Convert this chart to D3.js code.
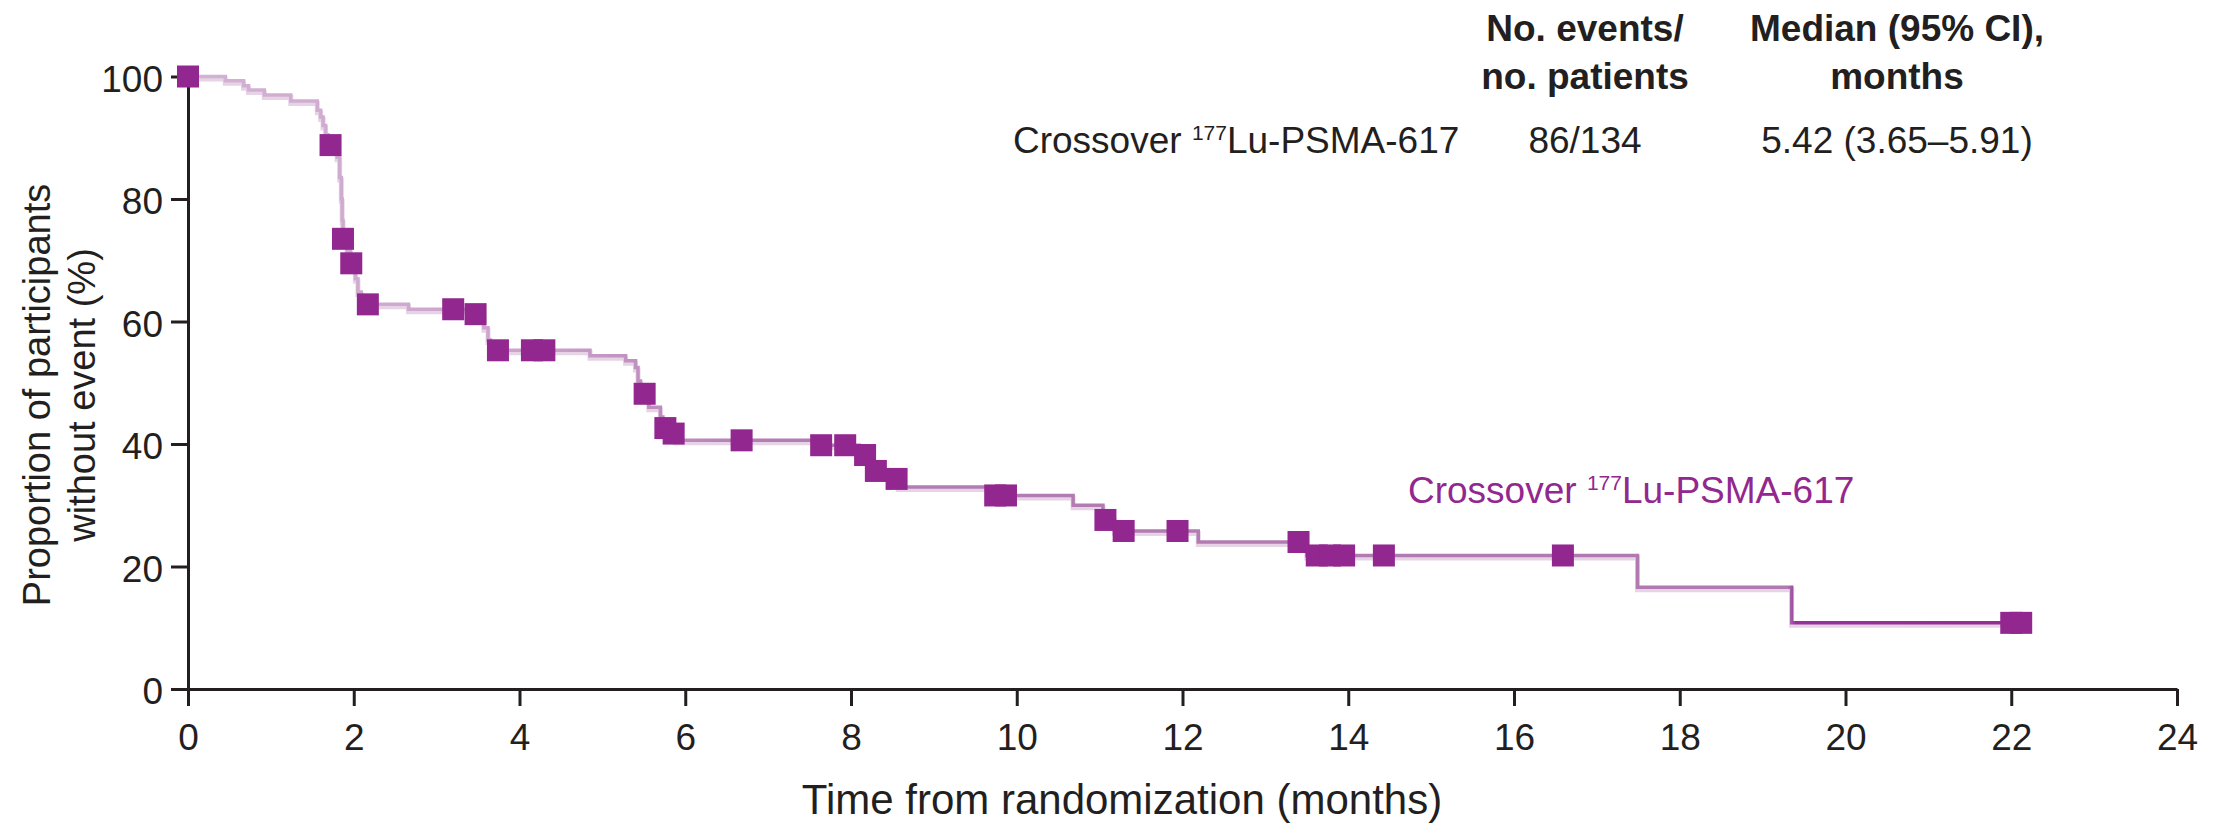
<!DOCTYPE html>
<html>
<head>
<meta charset="utf-8">
<script src="https://cdn.jsdelivr.net/npm/d3@7"></script>
<style>
  body { margin: 0; background: #fff; }
  text { font-family: "Liberation Sans", Arial, Helvetica, sans-serif; fill: #231f20; }
</style>
</head>
<body>
<div id="chart"></div>
<script>
// KM steps: time (months) and % without event after each drop
const stepTimes = [0, 0.45, 0.67, 0.73, 0.92, 1.24, 1.56, 1.60, 1.63, 1.66, 1.69, 1.80, 1.83, 1.85, 1.86, 1.87,
  1.92, 1.96, 2.02, 2.05, 2.09, 2.66, 3.40, 3.57, 3.62, 3.65, 4.85, 5.28, 5.40, 5.43, 5.46, 5.56, 5.70,
  5.73, 5.80, 5.88, 7.62, 8.10, 8.25, 8.50, 8.57, 9.70, 10.68, 11.04, 11.18, 12.19, 13.50, 17.49, 19.35];
const stepSurv = [100, 99.3, 98.5, 97.8, 97.0, 96.0, 94.5, 93.4, 92.0, 90.5, 88.8, 86.8, 83.5, 80.0, 76.5, 73.5,
  71.5, 69.5, 67.0, 64.8, 62.8, 62.0, 61.2, 59.0, 57.0, 55.3, 54.4, 53.6, 52.5, 50.3, 48.2, 46.0, 44.4,
  42.6, 41.7, 40.6, 39.8, 38.2, 35.6, 34.3, 33.0, 31.6, 30.0, 27.6, 25.8, 24.0, 21.8, 16.6, 10.8];
// censored observations (square marks)
const censorTimes = [0, 1.72, 1.87, 1.97, 2.17, 3.20, 3.47, 3.74, 4.15, 4.30, 5.51, 5.76, 5.86, 6.68, 7.64,
  7.93, 8.17, 8.30, 8.55, 9.74, 9.87, 11.07, 11.29, 11.94, 13.40, 13.62, 13.78, 13.95, 14.43, 16.59, 22.00, 22.12];

const xTicks = [0, 2, 4, 6, 8, 10, 12, 14, 16, 18, 20, 22, 24];
const yTicks = [0, 20, 40, 60, 80, 100];

const seriesName = "Crossover ";
const seriesIso = "177";
const seriesDrug = "Lu-PSMA-617";
const headEvents = ["No. events/", "no. patients"];
const headMedian = ["Median (95% CI),", "months"];
const rowEvents = "86/134";
const rowMedian = "5.42 (3.65\u20135.91)";

const W = 2213, H = 823;
const purple = "#92278f";
const ink = "#231f20";
const fs = 37;

const svg = d3.select("#chart").append("svg")
    .attr("width", W)
    .attr("height", H)
    .attr("viewBox", [0, 0, W, H]);

const x = d3.scaleLinear().domain([0, 24]).range([188, 2177]);
const y = d3.scaleLinear().domain([0, 100]).range([689, 76.5]);

// value of the step function at time t
const survAt = t => stepSurv[d3.bisectRight(stepTimes, t) - 1];

const pts = stepTimes.map((t, i) => [t, stepSurv[i]]);
pts.push([d3.max(censorTimes), survAt(d3.max(censorTimes))]);

const line = d3.line()
    .curve(d3.curveStepAfter)
    .x(d => x(d[0]))
    .y(d => y(d[1]));

// the line goes from pale at the start to full purple at the tail
const grad = svg.append("defs").append("linearGradient")
    .attr("id", "kmstroke")
    .attr("gradientUnits", "userSpaceOnUse")
    .attr("x1", x(0)).attr("x2", x(24)).attr("y1", 0).attr("y2", 0);
[[0, "#d3b2d3"], [4, "#cca3cc"], [7, "#b37db3"], [19.3, "#b07ab0"], [19.4, "#96339a"], [24, purple]]
  .forEach(([t, c]) => grad.append("stop").attr("offset", t / 24).attr("stop-color", c));

svg.append("path")
    .attr("d", line(pts))
    .attr("transform", "translate(0,2.5)")
    .attr("fill", "none")
    .attr("stroke", "#e6d4e6")
    .attr("stroke-width", 5);

svg.append("path")
    .attr("d", line(pts))
    .attr("fill", "none")
    .attr("stroke", "url(#kmstroke)")
    .attr("stroke-width", 3.5);

// axes
const xAxis = d3.axisBottom(x).tickValues(xTicks).tickSize(17).tickSizeOuter(0).tickPadding(18);
const yAxis = d3.axisLeft(y).tickValues(yTicks).tickSize(17).tickSizeOuter(0).tickPadding(8);

svg.append("g")
    .attr("transform", `translate(0,${y(0)})`)
    .call(xAxis)
    .call(g => g.selectAll("path, line").attr("stroke", ink).attr("stroke-width", 3))
    .call(g => g.selectAll("text").attr("font-size", fs).attr("fill", ink)
        .attr("font-family", "Liberation Sans, Arial, sans-serif"));

svg.append("g")
    .attr("transform", `translate(${x(0)},0)`)
    .call(yAxis)
    .call(g => g.selectAll("path, line").attr("stroke", ink).attr("stroke-width", 3))
    .call(g => g.selectAll("text").attr("font-size", fs).attr("fill", ink).attr("dy", "0.4em")
        .attr("font-family", "Liberation Sans, Arial, sans-serif"));

// censor marks
const sq = 22;
svg.append("g")
    .attr("fill", purple)
    .selectAll("rect")
    .data(censorTimes)
    .join("rect")
    .attr("x", d => x(d) - sq / 2)
    .attr("y", d => y(survAt(d)) - sq / 2)
    .attr("width", sq)
    .attr("height", sq);

// axis titles
svg.append("text")
    .attr("x", 1122)
    .attr("y", 814)
    .attr("text-anchor", "middle")
    .attr("font-size", 42)
    .text("Time from randomization (months)");

const yTitle = svg.append("text")
    .attr("transform", "translate(0,395) rotate(-90)")
    .attr("text-anchor", "middle")
    .attr("font-size", 38);
yTitle.append("tspan").attr("x", 0).attr("y", 50).text("Proportion of participants");
yTitle.append("tspan").attr("x", 0).attr("y", 95).text("without event (%)");

// series label, with superscript isotope number
function seriesLabel(g, px, py, color) {
  const t = g.append("text")
      .attr("x", px)
      .attr("y", py)
      .attr("font-size", fs)
      .style("fill", color);
  t.append("tspan").text(seriesName);
  t.append("tspan").attr("font-size", 21).attr("dy", -13).text(seriesIso);
  t.append("tspan").attr("dy", 13).text(seriesDrug);
}

seriesLabel(svg, 1408, 503, purple);

// table top right
const colEvents = 1585, colMedian = 1897;
headEvents.forEach((s, i) => svg.append("text")
    .attr("x", colEvents).attr("y", 41 + i * 48)
    .attr("text-anchor", "middle").attr("font-size", fs).attr("font-weight", "bold").text(s));
headMedian.forEach((s, i) => svg.append("text")
    .attr("x", colMedian).attr("y", 41 + i * 48)
    .attr("text-anchor", "middle").attr("font-size", fs).attr("font-weight", "bold").text(s));

seriesLabel(svg, 1013, 153, ink);
svg.append("text").attr("x", colEvents).attr("y", 153)
    .attr("text-anchor", "middle").attr("font-size", fs).text(rowEvents);
svg.append("text").attr("x", colMedian).attr("y", 153)
    .attr("text-anchor", "middle").attr("font-size", fs).text(rowMedian);
</script>
</body>
</html>
